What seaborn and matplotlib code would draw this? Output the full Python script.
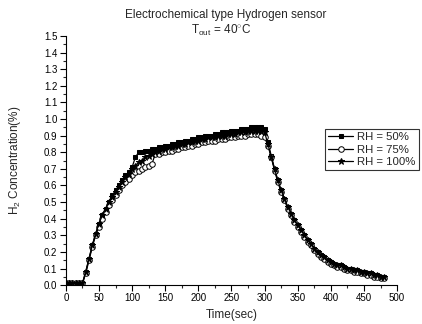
import numpy as np
import pandas as pd
import matplotlib
matplotlib.use("Agg")
import matplotlib.pyplot as plt
import seaborn as sns
from matplotlib.ticker import MultipleLocator

# Tempo (s), amostras a cada 5 s
tempo = list(range(0, 485, 5))

rh50 = [0.01, 0.01, 0.01, 0.01, 0.01, 0.01, 0.08, 0.16, 0.24, 0.31,
        0.37, 0.42, 0.46, 0.50, 0.54, 0.57, 0.60, 0.63, 0.66, 0.68,
        0.71, 0.77, 0.80, 0.80, 0.81, 0.81, 0.82, 0.82, 0.83, 0.83,
        0.84, 0.84, 0.85, 0.85, 0.86, 0.86, 0.87, 0.87, 0.88, 0.88,
        0.89, 0.89, 0.90, 0.90, 0.90, 0.91, 0.91, 0.92, 0.92, 0.92,
        0.93, 0.93, 0.93, 0.94, 0.94, 0.94, 0.95, 0.95, 0.95, 0.95,
        0.94, 0.86, 0.78, 0.70, 0.63, 0.57, 0.52, 0.47, 0.43, 0.39,
        0.36, 0.33, 0.30, 0.27, 0.25, 0.22, 0.20, 0.18, 0.17, 0.15,
        0.14, 0.13, 0.12, 0.12, 0.11, 0.10, 0.10, 0.09, 0.09, 0.08,
        0.08, 0.07, 0.07, 0.06, 0.06, 0.05, 0.05]

rh75 = [0.01, 0.01, 0.01, 0.01, 0.01, 0.01, 0.07, 0.15, 0.23, 0.30,
        0.35, 0.40, 0.44, 0.48, 0.51, 0.54, 0.57, 0.60, 0.62, 0.64,
        0.66, 0.68, 0.69, 0.70, 0.71, 0.72, 0.73, 0.79, 0.79, 0.80,
        0.80, 0.81, 0.81, 0.82, 0.82, 0.83, 0.83, 0.84, 0.84, 0.85,
        0.85, 0.86, 0.86, 0.87, 0.87, 0.87, 0.88, 0.88, 0.88, 0.89,
        0.89, 0.89, 0.90, 0.90, 0.90, 0.91, 0.91, 0.91, 0.91, 0.90,
        0.89, 0.84, 0.77, 0.69, 0.62, 0.56, 0.51, 0.46, 0.42, 0.38,
        0.35, 0.32, 0.29, 0.26, 0.24, 0.21, 0.19, 0.17, 0.16, 0.14,
        0.13, 0.12, 0.11, 0.11, 0.10, 0.09, 0.09, 0.08, 0.08, 0.07,
        0.07, 0.06, 0.06, 0.05, 0.05, 0.04, 0.04]

rh100 = [0.01, 0.01, 0.01, 0.01, 0.01, 0.01, 0.08, 0.16, 0.24, 0.31,
         0.37, 0.42, 0.46, 0.50, 0.53, 0.56, 0.59, 0.62, 0.65, 0.67,
         0.70, 0.72, 0.74, 0.75, 0.77, 0.78, 0.79, 0.80, 0.81, 0.82,
         0.82, 0.83, 0.83, 0.84, 0.84, 0.85, 0.85, 0.86, 0.86, 0.87,
         0.87, 0.88, 0.88, 0.89, 0.89, 0.89, 0.90, 0.90, 0.90, 0.91,
         0.91, 0.91, 0.92, 0.92, 0.92, 0.93, 0.93, 0.93, 0.93, 0.93,
         0.92, 0.85, 0.77, 0.70, 0.63, 0.57, 0.52, 0.47, 0.43, 0.39,
         0.36, 0.33, 0.30, 0.27, 0.25, 0.22, 0.20, 0.18, 0.17, 0.15,
         0.14, 0.13, 0.12, 0.12, 0.11, 0.10, 0.10, 0.09, 0.09, 0.08,
         0.08, 0.07, 0.07, 0.06, 0.06, 0.05, 0.05]

series = ["RH = 50%", "RH = 75%", "RH = 100%"]

sns.set_style("ticks")
plt.rcParams['font.family'] = ['Liberation Sans', 'DejaVu Sans']
plt.rcParams['mathtext.fontset'] = 'custom'
plt.rcParams['mathtext.rm'] = 'Liberation Sans'

fig = plt.figure(figsize=(4.22, 3.24), dpi=100)
ax = fig.add_axes([0.156, 0.120, 0.785, 0.769])

estilos = [
    dict(marker='s', markersize=3.5, markerfacecolor='black', markeredgecolor='black'),
    dict(marker='o', markersize=4, markerfacecolor='white', markeredgecolor='black', markeredgewidth=0.7),
    dict(marker='*', markersize=4.5, markerfacecolor='black', markeredgecolor='black'),
]

for nome, valores, est in zip(series, [rh50, rh75, rh100], estilos):
    sns.lineplot(x=tempo, y=valores, ax=ax, color='black', linewidth=0.9,
                 label=nome, **est)

ax.set_xlim(0, 500)
ax.set_ylim(0, 1.5)
ax.xaxis.set_major_locator(MultipleLocator(50))
ax.xaxis.set_minor_locator(MultipleLocator(25))
ax.yaxis.set_major_locator(MultipleLocator(0.1))
ax.yaxis.set_minor_locator(MultipleLocator(0.05))
ax.yaxis.set_major_formatter(matplotlib.ticker.FormatStrFormatter('%.1f'))
ax.tick_params(which='major', direction='out', length=4, width=0.8, labelsize=7, colors='black', pad=2)
ax.tick_params(which='minor', direction='out', length=2, width=0.8)
for s in ['top', 'right']:
    ax.spines[s].set_visible(False)
for s in ['left', 'bottom']:
    ax.spines[s].set_color('black')
    ax.spines[s].set_linewidth(0.8)

ax.set_xlabel("Time(sec)", fontsize=8.5, labelpad=4)
ax.set_ylabel(r"H$_2$ Concentration(%)", fontsize=8.5, labelpad=15)

fig.text(0.535, 0.955, "Electrochemical type Hydrogen sensor", ha='center', va='center', fontsize=8.5)
fig.text(0.525, 0.907, r"T$_{\rm out}$ = 40$^{\circ}$C", ha='center', va='center', fontsize=8.5)

leg = ax.legend(loc='upper right', bbox_to_anchor=(0.992, 0.602), bbox_transform=fig.transFigure,
                fontsize=8.2, frameon=True, fancybox=False, edgecolor='black',
                handlelength=2.2, borderpad=0.3, labelspacing=0.2, handletextpad=0.3,
                borderaxespad=0)
leg.get_frame().set_linewidth(0.8)

fig.savefig("out.png", dpi=100)
